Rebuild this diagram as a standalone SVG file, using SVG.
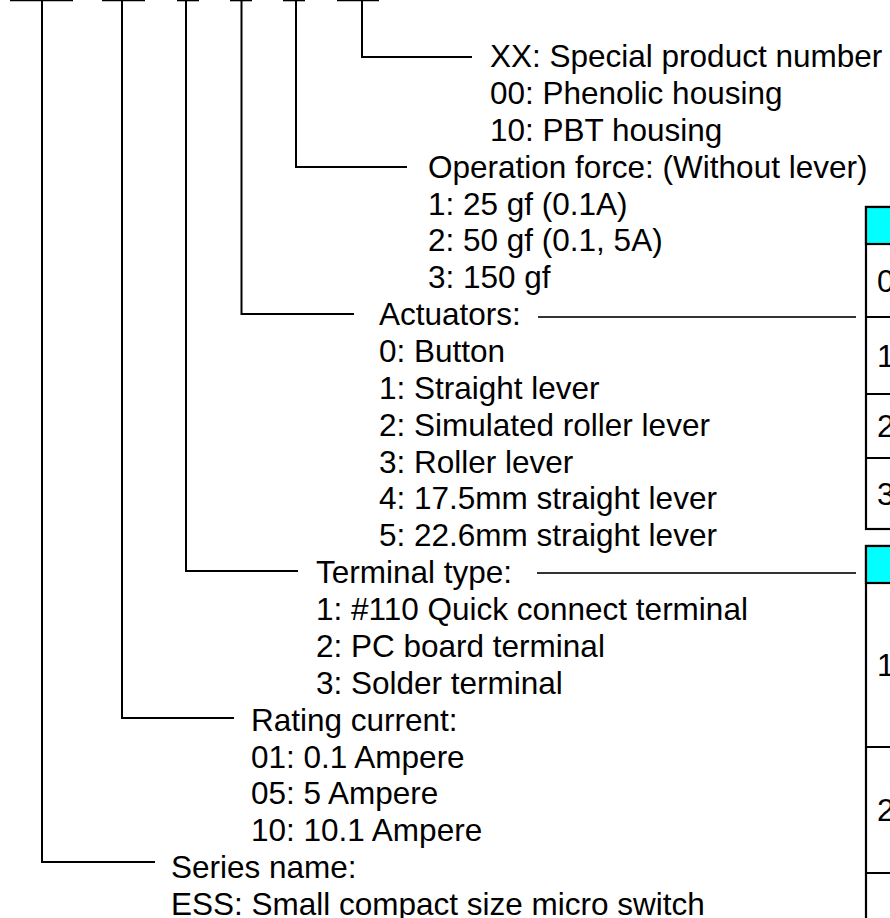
<svg xmlns="http://www.w3.org/2000/svg" width="890" height="918" viewBox="0 0 890 918">
<style>
  .t { font-family: "Liberation Sans", Arial, sans-serif; font-size: 31.5px; fill: #000; }
  .ln { stroke: #000; stroke-width: 2; fill: none; }
  .bar { stroke: #000; stroke-width: 2.6; fill: none; }
  .rl { stroke: #333; stroke-width: 2; fill: none; }
  .tb { stroke: #000; stroke-width: 2.2; fill: #fff; }
  .hd { fill: #00FFFF; stroke: #000; stroke-width: 2.2; }
  .sep { stroke: #000; stroke-width: 2.2; }
</style>
<rect x="0" y="0" width="890" height="918" fill="#fff"/>

<g id="connectors">
  <line class="bar" x1="10" y1="0" x2="73" y2="0"/>
  <polyline class="ln" points="42,0 42,862 155,862"/>
  <line class="bar" x1="102" y1="0" x2="145" y2="0"/>
  <polyline class="ln" points="122,0 122,718 234,718"/>
  <line class="bar" x1="177" y1="0" x2="199" y2="0"/>
  <polyline class="ln" points="186,0 186,571 298,571"/>
  <line class="bar" x1="230" y1="0" x2="252" y2="0"/>
  <polyline class="ln" points="241.5,0 241.5,314 354,314"/>
  <line class="bar" x1="283" y1="0" x2="305" y2="0"/>
  <polyline class="ln" points="296,0 296,167 407,167"/>
  <line class="bar" x1="337" y1="0" x2="379" y2="0"/>
  <polyline class="ln" points="362,0 362,57 472,57"/>
  <line class="rl" x1="538" y1="317" x2="856" y2="317"/>
  <line class="rl" x1="537" y1="573" x2="856" y2="573"/>
</g>

<g id="special-number">
  <text class="t" x="490" y="67">XX: Special product number</text>
  <text class="t" x="490" y="103.9">00: Phenolic housing</text>
  <text class="t" x="490" y="140.7">10: PBT housing</text>
</g>

<g id="operation-force">
  <text class="t" x="428" y="177.6">Operation force: (Without lever)</text>
  <text class="t" x="428" y="214.5">1: 25 gf (0.1A)</text>
  <text class="t" x="428" y="251.4">2: 50 gf (0.1, 5A)</text>
  <text class="t" x="428" y="288.2">3: 150 gf</text>
</g>

<g id="actuators">
  <text class="t" x="379" y="325.1">Actuators:</text>
  <text class="t" x="379" y="362">0: Button</text>
  <text class="t" x="379" y="398.8">1: Straight lever</text>
  <text class="t" x="379" y="435.7">2: Simulated roller lever</text>
  <text class="t" x="379" y="472.6">3: Roller lever</text>
  <text class="t" x="379" y="509.4">4: 17.5mm straight lever</text>
  <text class="t" x="379" y="546.3">5: 22.6mm straight lever</text>
</g>

<g id="terminal-type">
  <text class="t" x="316" y="583.2">Terminal type:</text>
  <text class="t" x="316" y="620.1">1: #110 Quick connect terminal</text>
  <text class="t" x="316" y="656.9">2: PC board terminal</text>
  <text class="t" x="316" y="693.8">3: Solder terminal</text>
</g>

<g id="rating-current">
  <text class="t" x="251" y="730.7">Rating current:</text>
  <text class="t" x="251" y="767.5">01: 0.1 Ampere</text>
  <text class="t" x="251" y="804.4">05: 5 Ampere</text>
  <text class="t" x="251" y="841.3">10: 10.1 Ampere</text>
</g>

<g id="series-name">
  <text class="t" x="171" y="878.1">Series name:</text>
  <text class="t" x="171" y="915">ESS: Small compact size micro switch</text>
</g>

<g id="actuator-table">
  <rect class="tb" x="866" y="207" width="40" height="322"/>
  <rect class="hd" x="866" y="207" width="40" height="37"/>
  <line class="sep" x1="866" y1="317" x2="900" y2="317"/>
  <line class="sep" x1="866" y1="394" x2="900" y2="394"/>
  <line class="sep" x1="866" y1="458" x2="900" y2="458"/>
  <text class="t" x="877" y="291.5">0</text>
  <text class="t" x="877" y="366.5">1</text>
  <text class="t" x="877" y="437">2</text>
  <text class="t" x="877" y="504.5">3</text>
</g>

<g id="terminal-table">
  <rect class="tb" x="866" y="546" width="40" height="390"/>
  <rect class="hd" x="866" y="546" width="40" height="37"/>
  <line class="sep" x1="866" y1="747" x2="900" y2="747"/>
  <line class="sep" x1="866" y1="873" x2="900" y2="873"/>
  <text class="t" x="877" y="676">1</text>
  <text class="t" x="877" y="821">2</text>
</g>
</svg>
